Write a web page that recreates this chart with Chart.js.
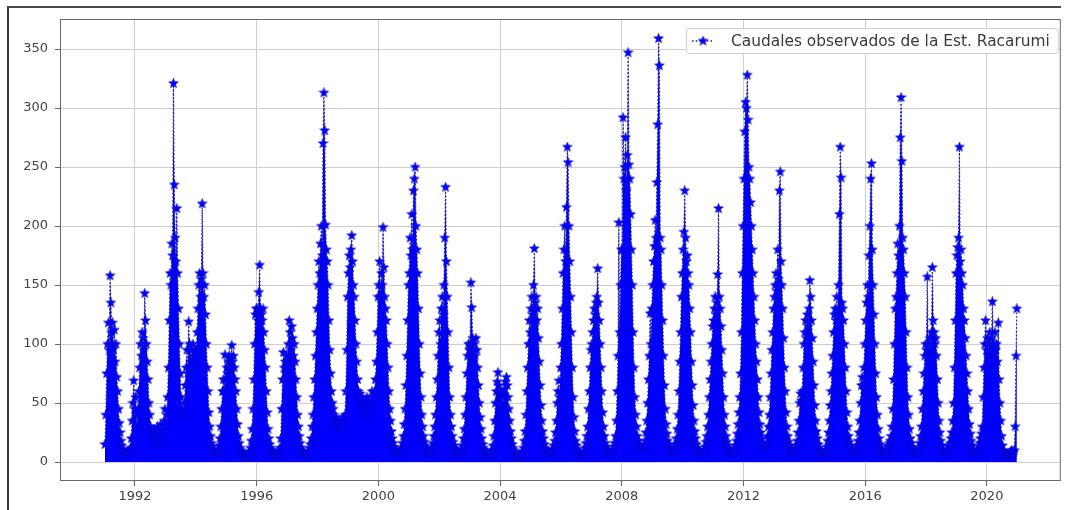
<!DOCTYPE html>
<html>
<head>
<meta charset="utf-8">
<title>Caudales observados - Est. Racarumi</title>
<script src="https://cdn.jsdelivr.net/npm/chart.js@4.4.1/dist/chart.umd.min.js"></script>
<style>
  html, body { margin: 0; padding: 0; background: #fff; }
  #wrap { position: relative; width: 1066px; height: 510px; overflow: hidden; }
  #frame {
    position: absolute; left: 7px; top: 6px; width: 1054px; height: 510px;
    border-top: 2px solid #4a4a4a; border-left: 2px solid #3a3a3a;
    box-sizing: border-box; pointer-events: none;
  }
</style>
</head>
<body>
<div id="wrap">
  <canvas id="chart" width="1066" height="510"></canvas>
  <div id="frame"></div>
</div>
<script>
// Daily flows averaged by dekad (10-day periods, 36 per year), m3/s
const firstYear = 1991;
const stepsPerYear = 36;
const caudales = [
  // 1991
  15, 40, 75, 100, 118, 95, 158, 135, 110, 118, 96, 112, 85, 100, 72, 60, 45, 33, 25, 18, 14, 11, 9, 8, 7, 6, 6, 7, 9, 10, 12, 20, 35, 50, 69, 45,
  // 1992
  55, 40, 30, 45, 60, 80, 100, 90, 110, 105, 95, 143, 120, 100, 85, 70, 50, 40, 30, 25, 22, 20, 28, 18, 15, 25, 30, 22, 18, 26, 32, 24, 20, 28, 35, 45,
  // 1993
  30, 40, 55, 80, 120, 160, 150, 185, 175, 321, 235, 190, 170, 215, 160, 130, 100, 75, 55, 45, 38, 42, 50, 65, 80, 95, 75, 119, 100, 85, 95, 80, 100, 90, 85, 95,
  // 1994
  95, 110, 130, 150, 160, 140, 155, 219, 160, 140, 150, 125, 100, 80, 60, 42, 30, 22, 16, 13, 11, 9, 8, 7, 7, 8, 10, 14, 20, 30, 45, 60, 70, 60, 91, 70,
  // 1995
  80, 75, 85, 90, 80, 88, 99, 85, 90, 80, 70, 60, 45, 32, 22, 16, 12, 10, 8, 7, 6, 6, 5, 5, 5, 6, 7, 9, 12, 18, 28, 45, 70, 100, 125, 130,
  // 1996
  130, 120, 144, 167, 130, 125, 120, 130, 110, 95, 80, 60, 42, 28, 20, 15, 12, 10, 9, 8, 7, 6, 6, 6, 7, 8, 10, 12, 20, 45, 70, 93, 80, 85, 75, 90,
  // 1997
  85, 100, 120, 110, 95, 115, 105, 90, 100, 85, 70, 55, 40, 30, 22, 16, 12, 10, 9, 8, 7, 6, 6, 6, 7, 9, 12, 15, 20, 30, 40, 55, 70, 90, 110, 130,
  // 1998
  150, 170, 160, 185, 200, 175, 270, 313, 281, 201, 180, 170, 150, 120, 95, 75, 60, 50, 45, 40, 35, 38, 32, 30, 35, 28, 30, 33, 36, 30, 38, 35, 40, 60, 95, 140,
  // 1999
  160, 175, 165, 180, 192, 170, 150, 140, 120, 100, 85, 70, 60, 55, 58, 50, 55, 48, 52, 45, 50, 40, 55, 48, 52, 45, 40, 50, 60, 55, 55, 60, 70, 85, 110, 140,
  // 2000
  150, 170, 140, 160, 150, 199, 165, 140, 130, 120, 100, 80, 60, 45, 35, 26, 20, 16, 13, 11, 9, 8, 7, 7, 7, 8, 10, 12, 16, 22, 32, 45, 65, 90, 120, 150,
  // 2001
  160, 190, 175, 210, 180, 230, 240, 250, 200, 180, 160, 130, 100, 75, 55, 40, 30, 22, 17, 14, 12, 10, 9, 8, 8, 8, 9, 12, 16, 22, 30, 40, 55, 70, 90, 110,
  // 2002
  120, 100, 130, 140, 125, 150, 190, 233, 170, 140, 110, 80, 55, 40, 30, 22, 17, 14, 12, 10, 9, 8, 7, 7, 8, 9, 11, 14, 20, 28, 40, 55, 75, 90, 100, 95,
  // 2003
  100, 152, 131, 105, 95, 100, 90, 105, 95, 80, 65, 50, 38, 28, 20, 15, 12, 10, 9, 8, 7, 6, 6, 6, 7, 8, 10, 14, 22, 35, 50, 60, 68, 76, 65, 55,
  // 2004
  60, 58, 50, 45, 55, 62, 68, 72, 65, 55, 45, 35, 26, 20, 15, 12, 10, 8, 7, 6, 5, 5, 5, 5, 6, 7, 9, 12, 18, 26, 40, 60, 80, 100, 120, 110,
  // 2005
  130, 140, 125, 150, 181, 135, 140, 120, 130, 105, 85, 65, 48, 35, 26, 20, 15, 12, 10, 9, 8, 7, 7, 7, 8, 9, 11, 14, 18, 25, 35, 50, 60, 69, 55, 80,
  // 2006
  100, 130, 160, 180, 200, 170, 216, 267, 254, 200, 170, 140, 110, 80, 55, 38, 26, 18, 14, 11, 9, 8, 7, 6, 6, 6, 7, 9, 12, 16, 22, 30, 45, 60, 80, 95,
  // 2007
  100, 110, 120, 130, 125, 135, 140, 164, 135, 120, 100, 80, 60, 42, 30, 22, 16, 13, 11, 9, 8, 7, 7, 7, 8, 10, 13, 16, 22, 35, 60, 90, 203, 110, 150, 180,
  // 2008
  180, 292, 240, 250, 275, 230, 260, 347, 252, 240, 210, 180, 150, 110, 80, 55, 40, 30, 22, 18, 15, 13, 12, 11, 11, 12, 14, 18, 25, 35, 50, 70, 90, 126, 100, 130,
  // 2009
  150, 170, 183, 205, 190, 237, 286, 359, 336, 190, 180, 150, 120, 90, 65, 45, 32, 24, 18, 15, 13, 11, 10, 9, 9, 10, 12, 15, 20, 28, 40, 60, 85, 110, 140, 160,
  // 2010
  180, 195, 230, 190, 170, 175, 160, 150, 130, 110, 85, 65, 48, 35, 26, 20, 15, 12, 10, 9, 8, 7, 7, 7, 8, 10, 13, 17, 22, 30, 40, 55, 70, 85, 100, 115,
  // 2011
  120, 130, 140, 125, 135, 159, 215, 140, 130, 115, 95, 75, 55, 40, 30, 22, 17, 14, 12, 10, 9, 8, 8, 8, 9, 11, 14, 18, 24, 32, 42, 55, 75, 110, 160, 200,
  // 2012
  240, 280, 305, 300, 328, 290, 250, 240, 220, 200, 180, 160, 140, 120, 100, 85, 70, 55, 42, 32, 25, 20, 16, 13, 12, 12, 13, 16, 22, 30, 40, 55, 75, 95, 110, 130,
  // 2013
  140, 150, 160, 145, 180, 155, 230, 246, 170, 150, 130, 105, 80, 60, 42, 30, 22, 17, 14, 12, 10, 9, 8, 8, 9, 11, 14, 18, 25, 35, 50, 58, 52, 60, 80, 100,
  // 2014
  110, 120, 105, 125, 115, 130, 154, 140, 120, 105, 85, 65, 48, 35, 26, 20, 15, 12, 10, 9, 8, 7, 7, 7, 8, 10, 13, 18, 25, 35, 48, 60, 75, 90, 110, 125,
  // 2015
  130, 120, 140, 125, 150, 210, 267, 241, 135, 130, 120, 100, 80, 60, 42, 30, 22, 17, 14, 12, 10, 9, 8, 8, 9, 11, 14, 18, 25, 35, 50, 65, 72, 65, 80, 100,
  // 2016
  120, 135, 150, 140, 175, 200, 240, 253, 180, 150, 125, 100, 75, 55, 40, 28, 20, 15, 12, 10, 9, 8, 7, 7, 8, 10, 13, 14, 16, 18, 22, 30, 45, 70, 100, 130,
  // 2017
  140, 160, 185, 175, 200, 275, 309, 255, 190, 180, 160, 140, 110, 80, 55, 40, 28, 20, 16, 13, 11, 10, 9, 8, 8, 8, 9, 12, 16, 22, 30, 45, 60, 75, 90, 100,
  // 2018
  95, 157, 100, 90, 105, 95, 110, 165, 120, 110, 100, 105, 90, 70, 50, 35, 25, 18, 14, 11, 9, 8, 7, 7, 8, 10, 13, 14, 16, 20, 25, 35, 50, 80, 120, 160,
  // 2019
  175, 182, 190, 267, 170, 180, 160, 150, 130, 120, 105, 90, 75, 60, 45, 32, 24, 18, 14, 11, 9, 8, 7, 7, 8, 10, 13, 16, 20, 24, 30, 55, 80, 100, 120, 95,
  // 2020
  105, 90, 100, 110, 95, 105, 136, 100, 95, 110, 95, 100, 85, 118, 70, 50, 35, 22, 14, 10, 8, 6, 5, 5, 5, 6, 7, 8, 9, 10, 9, 8, 10, 30, 90, 130
];

const xTicks = [1992, 1996, 2000, 2004, 2008, 2012, 2016, 2020];
const yTicks = [0, 50, 100, 150, 200, 250, 300, 350];
const seriesLabel = 'Caudales observados de la Est. Racarumi';

const blue = '#0000ff';
const lineBlue = '#1c1c9e';
const tickColor = '#444';

// filled five-point star, used as the point marker
function makeStar(size, fill, edge) {
  const c = document.createElement('canvas');
  c.width = c.height = size;
  const g = c.getContext('2d');
  const cx = size / 2, cy = size / 2;
  const rOut = size / 2 - 0.4, rIn = rOut * 0.42;
  g.beginPath();
  for (let k = 0; k < 10; k++) {
    const r = k % 2 ? rIn : rOut;
    const a = -Math.PI / 2 + k * Math.PI / 5;
    g.lineTo(cx + r * Math.cos(a), cy + r * Math.sin(a));
  }
  g.closePath();
  g.fillStyle = fill;
  g.fill();
  if (edge) {
    g.strokeStyle = edge;
    g.lineWidth = 0.6;
    g.stroke();
  }
  return c;
}
const star = makeStar(11, blue, '#0a0ac0');

const points = caudales.map((q, i) => ({ x: firstYear + (i + 0.5) / stepsPerYear, y: q }));

// box around the plotting area
const plotFrame = {
  id: 'plotFrame',
  afterDraw(chart) {
    const { ctx, chartArea: a } = chart;
    ctx.save();
    ctx.strokeStyle = '#6a6a6a';
    ctx.lineWidth = 1;
    ctx.strokeRect(a.left + 0.5, a.top + 0.5, a.right - a.left - 1, a.bottom - a.top - 1);
    ctx.restore();
  }
};

// legend in the upper right corner, matplotlib style
const cornerLegend = {
  id: 'cornerLegend',
  afterDraw(chart) {
    const { ctx, chartArea: a } = chart;
    const label = chart.data.datasets[0].label;
    ctx.save();
    ctx.font = '15.4px "DejaVu Sans"';
    const tw = ctx.measureText(label).width;
    const h = 25;
    const w = 45 + tw + 8;
    const right = a.right - 3;
    const x = right - w;
    const y = a.top + 9;

    ctx.beginPath();
    ctx.roundRect(x + 0.5, y + 0.5, w, h, 3);
    ctx.fillStyle = 'rgba(255,255,255,0.85)';
    ctx.fill();
    ctx.strokeStyle = '#cccccc';
    ctx.lineWidth = 1;
    ctx.stroke();

    const my = y + h / 2 + 0.5;
    ctx.beginPath();
    ctx.setLineDash([1.5, 2.2]);
    ctx.strokeStyle = lineBlue;
    ctx.lineWidth = 1.3;
    ctx.moveTo(x + 6, my);
    ctx.lineTo(x + 28, my);
    ctx.stroke();
    ctx.setLineDash([]);
    ctx.drawImage(star, x + 17 - star.width / 2, my - star.height / 2);

    ctx.fillStyle = '#3a3a3a';
    ctx.textBaseline = 'middle';
    ctx.fillText(label, x + 45, my + 0.5);
    ctx.restore();
  }
};

Chart.defaults.font.family = '"DejaVu Sans", sans-serif';

const ctx = document.getElementById('chart').getContext('2d');
new Chart(ctx, {
  type: 'line',
  data: {
    datasets: [{
      label: seriesLabel,
      data: points,
      borderColor: lineBlue,
      borderWidth: 1.2,
      borderDash: [1.5, 2.2],
      fill: 'origin',
      backgroundColor: blue,
      pointStyle: star,
      pointRadius: 3,
      tension: 0
    }]
  },
  options: {
    responsive: false,
    animation: false,
    events: [],
    layout: { padding: { top: 19, right: 5, left: 0, bottom: 0 } },
    plugins: {
      legend: { display: false },
      tooltip: { enabled: false }
    },
    scales: {
      x: {
        type: 'linear',
        min: 1989.535,
        max: 2022.43,
        afterBuildTicks: s => { s.ticks = xTicks.map(v => ({ value: v })); },
        afterFit: s => { s.height = 29; },
        ticks: {
          autoSkip: false,
          maxRotation: 0,
          padding: 3,
          color: tickColor,
          font: { size: 13 },
          callback: v => String(v)
        },
        grid: { color: '#cdcdcd', lineWidth: 1, tickLength: 5, tickColor: '#666' },
        border: { display: false }
      },
      y: {
        min: -16,
        max: 375.5,
        afterBuildTicks: s => { s.ticks = yTicks.map(v => ({ value: v })); },
        afterFit: s => { s.width = 60; },
        ticks: {
          padding: 7,
          color: tickColor,
          font: { size: 13 },
          callback: v => String(v)
        },
        grid: { color: '#cdcdcd', lineWidth: 1, tickLength: 5, tickColor: '#666' },
        border: { display: false }
      }
    }
  },
  plugins: [plotFrame, cornerLegend]
});
</script>
</body>
</html>
